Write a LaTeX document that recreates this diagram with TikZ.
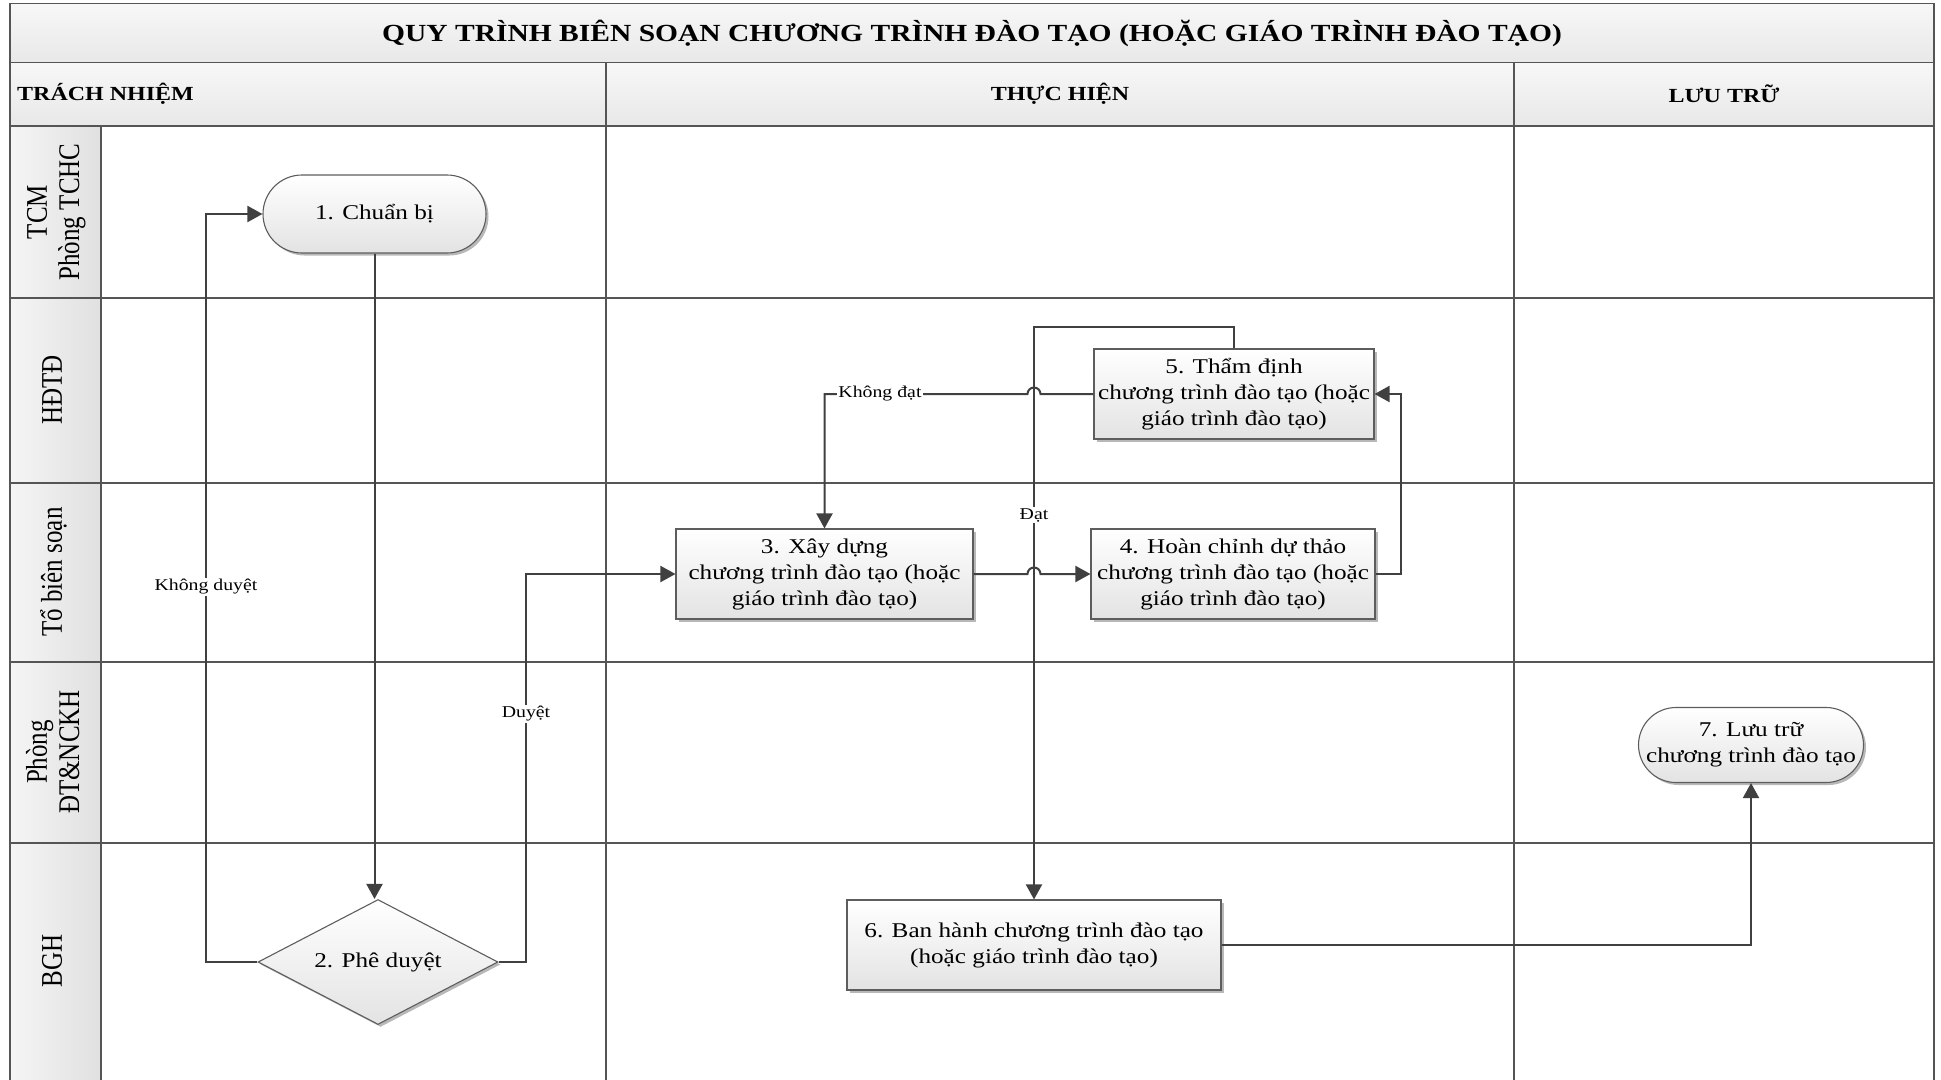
\documentclass[tikz,border=0pt]{standalone}
\usepackage{graphicx}
\usepackage{fontspec}
\setmainfont{Liberation Serif}[FakeStretch=1.2]
\newfontfamily\lanefont{Liberation Serif}
\usetikzlibrary{shapes.geometric,shapes.misc,arrows.meta,shadows}
\definecolor{ln}{HTML}{404040}
\definecolor{gridc}{HTML}{555555}
\newcommand\lanetext[1]{\scalebox{1}[1.2]{\lanefont\fontsize{25}{27}\selectfont\begin{tabular}{@{}c@{}}#1\end{tabular}}}
\begin{document}
\begin{tikzpicture}[x=1pt,y=-1pt,
  gridline/.style={draw=gridc,line width=1.6pt},
  conn/.style={draw=ln,line width=2pt},
  arr/.style={conn,-{Triangle[length=15pt,width=16pt]}},
  shade3/.style={top color=white,bottom color=black!11},
  shad/.style={drop shadow={shadow xshift=2.5pt,shadow yshift=-2.5pt,fill=black!28,opacity=1}},
  procbox/.style={rectangle,draw=ln!85,line width=1.1pt,shade3,shad,
     minimum width=#1,minimum height=90pt,inner sep=2pt,align=center,
     font=\fontsize{21}{26}\selectfont},
  term/.style={rounded rectangle,draw=ln!85,line width=1.1pt,shade3,shad,
     minimum width=#1,inner sep=2pt,align=center,font=\fontsize{21}{26}\selectfont},
  decision/.style={diamond,draw=ln!85,line width=1.1pt,shade3,shad,aspect=1.92,
     minimum width=240pt,minimum height=125pt,inner sep=0pt,font=\fontsize{21}{26}\selectfont},
  lbl/.style={fill=white,inner sep=1.5pt,font=\fontsize{16.5}{19}\selectfont},
  hdr/.style={font=\bfseries\fontsize{20}{24}\selectfont},
  lane/.style={rotate=90,inner sep=0pt}
]
\useasboundingbox (0,0) rectangle (1941,1079);
% fills
\shade[top color=black!3,bottom color=black!9] (10,3.5) rectangle (1934,62.5);
\shade[top color=black!3,bottom color=black!9] (10,62.5) rectangle (1934,126);
\shade[left color=black!4,right color=black!12] (10,126) rectangle (101,1081);
% grid
\draw[gridline] (10,1081) -- (10,3.5) -- (1934,3.5) -- (1934,1081);
\draw[gridline] (10,62.5) -- (1934,62.5);
\draw[gridline] (10,126) -- (1934,126);
\draw[gridline] (606,62.5) -- (606,1081);
\draw[gridline] (1514,62.5) -- (1514,1081);
\draw[gridline] (101,126) -- (101,1081);
\foreach \yy in {298,483,662,843} \draw[gridline] (10,\yy) -- (1934,\yy);
% titles
\node[font=\bfseries\fontsize{24.6}{30}\selectfont] (title) at (972,33) {QUY TRÌNH BIÊN SOẠN CHƯƠNG TRÌNH ĐÀO TẠO (HOẶC GIÁO TRÌNH ĐÀO TẠO)};
\node[hdr,anchor=west,inner sep=0pt] (h1) at (17,94) {TRÁCH NHIỆM};
\node[hdr] (h2) at (1060,94) {THỰC HIỆN};
\node[hdr] (h3) at (1724,94) {LƯU TRỮ};
% lane labels
\node[lane] (l1) at (56.5,212) {\lanetext{TCM\\Phòng TCHC}};
\node[lane] (l2) at (55.5,390) {\lanetext{HĐTĐ}};
\node[lane] (l3) at (55.5,572) {\lanetext{Tổ biên soạn}};
\node[lane] (l4) at (56.5,752) {\lanetext{Phòng\\ĐT\&NCKH}};
\node[lane] (l5) at (55.5,961) {\lanetext{BGH}};
% nodes
\node[term=227pt,minimum height=78pt] (n1) at (374.5,214) {1. Chuẩn bị};
\node[decision] (n2) at (378,962) {2. Phê duyệt};
\node[procbox=297pt] (b3) at (824.5,574) {3. Xây dựng\\chương trình đào tạo (hoặc\\giáo trình đào tạo)};
\node[procbox=284pt] (b4) at (1233,574) {4. Hoàn chỉnh dự thảo\\chương trình đào tạo (hoặc\\giáo trình đào tạo)};
\node[procbox=280pt] (b5) at (1234,394) {5. Thẩm định\\chương trình đào tạo (hoặc\\giáo trình đào tạo)};
\node[procbox=374pt] (b6) at (1034,945) {6. Ban hành chương trình đào tạo\\(hoặc giáo trình đào tạo)};
\node[term=229pt,minimum height=75pt] (n7) at (1751,745) {7. Lưu trữ\\chương trình đào tạo};
% connectors
\coordinate (kd) at (206,214);
\coordinate (dy) at (526,574);
\coordinate (r45) at (1401,574);
\coordinate (t56) at (1034,327);
\draw[arr] (n1.south) -- (n1.south |- n2.north);
\draw[arr] (n2.west) -| (kd) -- (n1.west);
\draw[arr] (n2.east) -| (dy) -- (b3.west);
\draw[arr] (b3.east) -- (1027.5,574) arc(180:360:6.5) -- (b4.west);
\draw[arr] (b4.east) -- (r45) |- (b5.east);
\draw[arr] (b5.west) -- (1040.5,394) arc(0:-180:6.5) -- (b3.north |- b5.west) -- (b3.north);
\draw[arr] (b5.north) |- (t56) -- (b6.north);
\draw[arr] (b6.east) -| (n7.south);
% labels
\node[lbl] (lab1) at (206,587) {Không duyệt};
\node[lbl] (lab2) at (526,714) {Duyệt};
\node[lbl] (lab3) at (880,394) {Không đạt};
\node[lbl] (lab4) at (1034,515) {Đạt};
\end{tikzpicture}
\end{document}
